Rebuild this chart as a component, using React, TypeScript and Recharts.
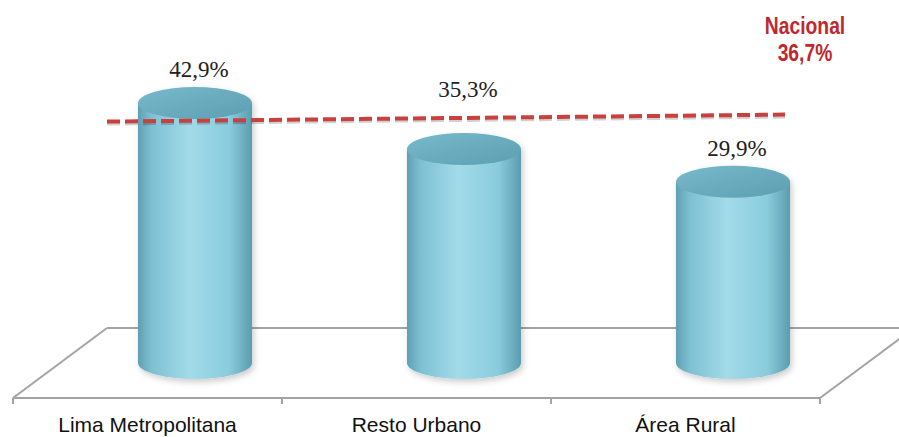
import { BarChart, Bar, XAxis, YAxis, ReferenceLine, LabelList } from 'recharts';

const categories = ['Lima Metropolitana', 'Resto Urbano', 'Área Rural'];
const values = [42.9, 35.3, 29.9];
const valueLabels = ['42,9%', '35,3%', '29,9%'];
const nacionalValue = 36.7;
const nacionalLabel = ['Nacional', '36,7%'];

const data = categories.map((name, i) => ({ name, value: values[i], label: valueLabels[i] }));

const W = 899;
const H = 437;
const margin = { top: 95, right: 79, left: 13, bottom: 9 };
const AXIS_H = 30;
// 3D floor depth (the back edge sits up and to the right of the front edge)
const DEPTH_X = 94;
const DEPTH_Y = 70;

const plotLeft = margin.left;
const plotRight = W - margin.right;
const plotBottom = H - margin.bottom - AXIS_H;

function Floor() {
  const band = (plotRight - plotLeft) / categories.length;
  const ticks = Array.from({ length: categories.length + 1 }, (_, i) => plotLeft + i * band);
  const bl = plotLeft + DEPTH_X;
  const br = plotRight + DEPTH_X;
  const by = plotBottom - DEPTH_Y;
  return (
    <svg width={W} height={H} style={{ position: 'absolute', left: 0, top: 0 }}>
      <polygon points={`${plotLeft},${plotBottom} ${bl},${by} ${br},${by} ${plotRight},${plotBottom}`} fill="#fff" />
      <g stroke="#a3a3a3" strokeWidth={2} fill="none">
        <line x1={plotLeft} y1={plotBottom} x2={bl} y2={by} />
        <line x1={bl} y1={by} x2={br} y2={by} />
        <line x1={plotRight} y1={plotBottom} x2={br} y2={by} />
        {ticks.map((t) => (
          <line key={t} x1={t} y1={plotBottom} x2={t} y2={plotBottom + 6} />
        ))}
      </g>
    </svg>
  );
}

function Cylinder(props: any) {
  const { x, y, width, height } = props;
  const cx = x + width / 2 + DEPTH_X / 2;
  const top = y - DEPTH_Y / 2;
  const bottom = y + height - DEPTH_Y / 2;
  const rx = width / 2;
  const ry = 16;
  return (
    <g filter="url(#cylShadow)">
      <path
        d={`M${cx - rx},${top} L${cx - rx},${bottom} A${rx},${ry} 0 0 0 ${cx + rx},${bottom} L${cx + rx},${top} Z`}
        fill="url(#cylBody)"
      />
      <ellipse cx={cx} cy={top} rx={rx} ry={ry} fill="url(#cylCap)" />
    </g>
  );
}

function ValueLabel(props: any) {
  const { x, y, width, index, value } = props;
  const cx = x + width / 2 + DEPTH_X / 2 + 4;
  // the middle label is lifted over the national line in the original
  const lift = index === 1 ? 26 : 0;
  return (
    <text
      x={cx}
      y={y - DEPTH_Y / 2 - 26 - lift}
      textAnchor="middle"
      fontFamily="'Liberation Serif', 'Times New Roman', serif"
      fontSize={23}
      fill="#222"
    >
      {value}
    </text>
  );
}

function NacionalLine(props: any) {
  const { x1, x2, y1 } = props;
  const sx = x1 + DEPTH_X;
  const ex = x2 - 35;
  const sy = y1 - 54;
  const ey = y1 - 61;
  return (
    <g>
      <line x1={sx} y1={sy + 2} x2={ex} y2={ey + 2} stroke="rgba(0,0,0,0.18)" strokeWidth={4} strokeDasharray="13 5" />
      <line x1={sx} y1={sy} x2={ex} y2={ey} stroke="#c9403d" strokeWidth={4} strokeDasharray="13 5" />
      <g
        transform={`translate(${ex + 20},0) scale(0.84,1)`}
        fontFamily="'Liberation Sans', Arial, sans-serif"
        fontWeight="bold"
        fontSize={23}
        fill="#c0282d"
        textAnchor="middle"
      >
        <text x={0} y={ey - 81}>{nacionalLabel[0]}</text>
        <text x={0} y={ey - 54}>{nacionalLabel[1]}</text>
      </g>
    </g>
  );
}

export default function App() {
  return (
    <div style={{ position: 'absolute', left: 0, top: 0, width: W, height: H, background: '#fff' }}>
      <Floor />
      <div style={{ position: 'absolute', left: 0, top: 0 }}>
        <BarChart width={W} height={H} data={data} margin={margin} barSize={114}>
          <defs>
            <linearGradient id="cylBody" x1="0" y1="0" x2="1" y2="0">
              <stop offset="0%" stopColor="#609fb3" />
              <stop offset="12%" stopColor="#7ec0d2" />
              <stop offset="45%" stopColor="#a2dbea" />
              <stop offset="80%" stopColor="#8accdc" />
              <stop offset="100%" stopColor="#5c9cb0" />
            </linearGradient>
            <linearGradient id="cylCap" x1="0" y1="0" x2="1" y2="1">
              <stop offset="0%" stopColor="#78b9ca" />
              <stop offset="100%" stopColor="#5d9fb3" />
            </linearGradient>
            <filter id="cylShadow" x="-20%" y="-10%" width="140%" height="125%">
              <feDropShadow dx="2" dy="3" stdDeviation="3" floodColor="#000" floodOpacity="0.2" />
            </filter>
          </defs>
          <XAxis
            dataKey="name"
            height={AXIS_H}
            axisLine={{ stroke: '#a3a3a3', strokeWidth: 2 }}
            tickLine={false}
            tickSize={6}
            tickMargin={13}
            interval={0}
            tick={{ fontSize: 21, fill: '#111', fontFamily: "'Liberation Sans', Arial, sans-serif" }}
          />
          <YAxis hide domain={[0, 50]} />
          <Bar dataKey="value" shape={<Cylinder />} isAnimationActive={false}>
            <LabelList dataKey="label" content={<ValueLabel />} />
          </Bar>
          <ReferenceLine y={nacionalValue} shape={<NacionalLine />} />
        </BarChart>
      </div>
    </div>
  );
}
